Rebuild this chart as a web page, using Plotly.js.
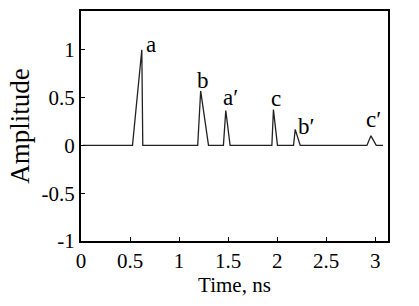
<!DOCTYPE html>
<html>
<head>
<meta charset="utf-8">
<script src="https://cdn.plot.ly/plotly-3.0.1.min.js"></script>
<style>html,body{margin:0;padding:0;background:#fff}#chart{width:419px;height:306px}</style>
</head>
<body>
<div id="chart"></div>
<script>
var timeNs = [0.02, 0.525, 0.62, 0.63, 1.19, 1.22, 1.30, 1.452, 1.476, 1.52, 1.946, 1.962, 2.003, 2.167, 2.184, 2.235, 2.915, 2.956, 3.01, 3.08];
var amplitude = [0, 0, 1.0, 0, 0, 0.57, 0, 0, 0.365, 0, 0, 0.375, 0, 0, 0.167, 0, 0, 0.1, 0, 0];
var peakLabels = ["a", "b", "a′", "c", "b′", "c′"];
var labelX = [0.71, 1.245, 1.52, 1.99, 2.30, 2.98];
var labelY = [1.06, 0.68, 0.50, 0.49, 0.20, 0.27];
var xTicks = [0, 0.5, 1, 1.5, 2, 2.5, 3];
var yTicks = [-1, -0.5, 0, 0.5, 1];

var font = "Liberation Serif";
var annotations = peakLabels.map(function(t, i) {
  return {x: labelX[i], y: labelY[i], text: t, showarrow: false, xref: 'x', yref: 'y',
          font: {family: font, size: 23, color: '#000'}};
});

Plotly.newPlot('chart', [{
  x: timeNs, y: amplitude, mode: 'lines', type: 'scatter',
  line: {color: '#222', width: 1.3}, hoverinfo: 'skip'
}], {
  width: 419, height: 306,
  margin: {l: 81, r: 31, t: 11, b: 65},
  paper_bgcolor: '#fff', plot_bgcolor: '#fff',
  showlegend: false,
  font: {family: font, color: '#000', size: 20},
  xaxis: {
    range: [0, 3.13], tickvals: xTicks, ticktext: xTicks.map(String),
    ticks: 'inside', ticklen: 4, tickwidth: 1, tickcolor: '#000',
    showline: true, linecolor: '#000', linewidth: 2, mirror: true,
    showgrid: false, zeroline: false,
    tickfont: {family: font, size: 21, color: '#000'},
    title: {text: 'Time, ns', font: {family: font, size: 21, color: '#000'}, standoff: 5}
  },
  yaxis: {
    range: [-1, 1.406], tickvals: yTicks, ticktext: yTicks.map(String),
    ticks: 'inside', ticklen: 4, tickwidth: 1, tickcolor: '#000',
    showline: true, linecolor: '#000', linewidth: 2, mirror: true,
    showgrid: false, zeroline: false,
    tickfont: {family: font, size: 21, color: '#000'},
    title: {text: 'Amplitude', font: {family: font, size: 27, color: '#000'}, standoff: 4}
  },
  annotations: annotations
}, {displayModeBar: false, staticPlot: true});
</script>
</body>
</html>
